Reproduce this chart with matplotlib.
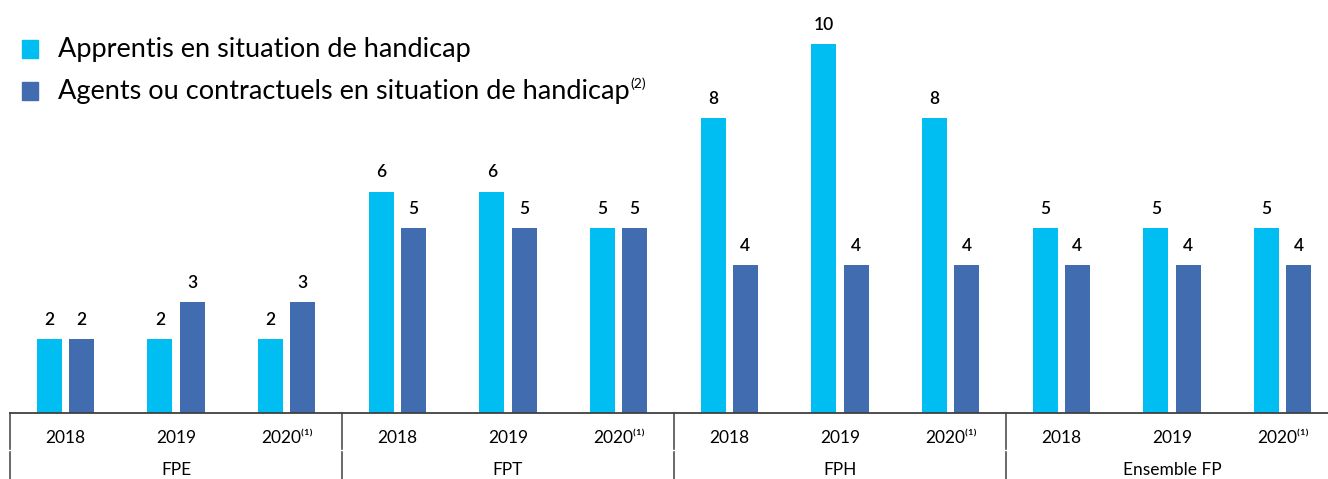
import matplotlib.pyplot as plt
from matplotlib.patches import Rectangle
import numpy as np

plt.rcParams['font.family'] = ['Lato', 'DejaVu Sans']

groups = ['FPE', 'FPT', 'FPH', 'Ensemble FP']
years = ['2018', '2019', '2020⁽¹⁾']
apprentis = [2, 2, 2, 6, 6, 5, 8, 10, 8, 5, 5, 5]
agents = [2, 3, 3, 5, 5, 5, 4, 4, 4, 4, 4, 4]
series_names = ['Apprentis en situation de handicap',
                'Agents ou contractuels en situation de handicap']

light = '#00BEF2'
dark = '#416DB0'

W, H = 1328, 479
fig = plt.figure(figsize=(W / 100, H / 100), dpi=100)
# axes: baseline at y=413 px, left at x=10 px
ax_h = 406
ax = fig.add_axes([10 / W, (H - 413) / H, 1328 / W, ax_h / H])
ax.set_xlim(0, 12)
ax.set_ylim(0, 11)

x = np.arange(12) + 0.5
bw = 0.226
off = 0.145
ax.bar(x - off, apprentis, bw, color=light)
ax.bar(x + off, agents, bw, color=dark)

for xi, v in zip(x - off, apprentis):
    ax.annotate(str(v), (xi, v), xytext=(0, 8), textcoords='offset points',
                ha='center', va='bottom', fontsize=12.5, fontweight='semibold')
for xi, v in zip(x + off, agents):
    ax.annotate(str(v), (xi, v), xytext=(0, 8), textcoords='offset points',
                ha='center', va='bottom', fontsize=12.5, fontweight='semibold')

for s in ['top', 'right', 'left']:
    ax.spines[s].set_visible(False)
ax.spines['bottom'].set_color('#404040')
ax.spines['bottom'].set_linewidth(1.3)
ax.set_xticks([])
ax.set_yticks([])

tr = ax.get_xaxis_transform()
def py(p):
    # pixel row (from top) to axes y
    return -(p - 413) / ax_h

for g in range(5):
    xs = g * 3
    ax.plot([xs, xs], [py(413), py(449)], color='#404040', lw=1.1, transform=tr, clip_on=False)
    ax.plot([xs, xs], [py(452), py(480)], color='#404040', lw=1.1, transform=tr, clip_on=False)

for i in range(12):
    ax.text(x[i], py(438), years[i % 3], transform=tr, ha='center', va='center', fontsize=12.5)
for g, name in enumerate(groups):
    ax.text(g * 3 + 1.5, py(470), name, transform=tr, ha='center', va='center', fontsize=12.5)

# legend
last = None
for k, (c, name) in enumerate(zip([light, dark], series_names)):
    yc = 49 + k * 42
    fig.patches.append(Rectangle((22 / W, (H - yc - 8.5) / H), 16 / W, 17 / H,
                                 color=c, transform=fig.transFigure))
    last = fig.text(58 / W, (H - yc) / H, name, ha='left', va='center', fontsize=19.5)

fig.canvas.draw()
bb = last.get_window_extent()
fig.text(bb.x1 / W + 1 / W, (H - 84) / H, '(2)', ha='left', va='center', fontsize=10)

fig.savefig('out.png', dpi=100)
